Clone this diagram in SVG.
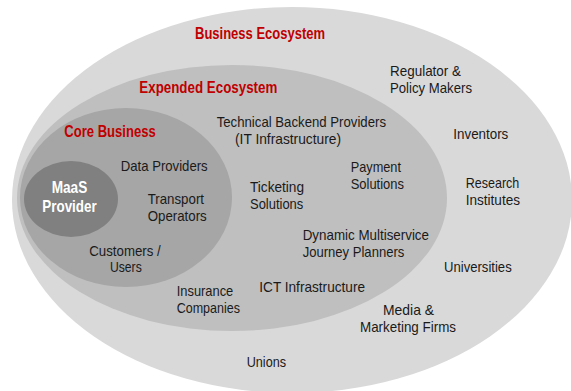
<svg xmlns="http://www.w3.org/2000/svg" width="571" height="391" viewBox="0 0 571 391">
  <style>
    .ring { stroke: none; }
    .title { font-family: "Liberation Sans", Arial, sans-serif; font-weight: bold; font-size: 16px; fill: #c00000; }
    .item { font-family: "Liberation Sans", Arial, sans-serif; font-size: 15px; fill: #1a1a1a; }
    .core-name { font-family: "Liberation Sans", Arial, sans-serif; font-weight: bold; font-size: 17px; fill: #ffffff; }
  </style>
  <rect width="571" height="391" fill="#ffffff"/>

  <!-- Outer ring: business ecosystem -->
  <g id="business-ecosystem">
    <ellipse class="ring" cx="292" cy="200" rx="280" ry="193" fill="#d9d9d9"/>
    <text class="title" x="195" y="39" textLength="130" lengthAdjust="spacingAndGlyphs">Business Ecosystem</text>
    <text class="item" x="390" y="76.3" textLength="71" lengthAdjust="spacingAndGlyphs">Regulator &amp;</text>
    <text class="item" x="390" y="93.3" textLength="82" lengthAdjust="spacingAndGlyphs">Policy Makers</text>
    <text class="item" x="453.3" y="139" textLength="55" lengthAdjust="spacingAndGlyphs">Inventors</text>
    <text class="item" x="465.7" y="187.7" textLength="53.6" lengthAdjust="spacingAndGlyphs">Research</text>
    <text class="item" x="465.7" y="205" textLength="54.3" lengthAdjust="spacingAndGlyphs">Institutes</text>
    <text class="item" x="444" y="271.7" textLength="67.7" lengthAdjust="spacingAndGlyphs">Universities</text>
    <text class="item" x="383" y="315" textLength="51" lengthAdjust="spacingAndGlyphs">Media &amp;</text>
    <text class="item" x="360" y="331.7" textLength="96" lengthAdjust="spacingAndGlyphs">Marketing Firms</text>
    <text class="item" x="246.7" y="367.3" textLength="39.3" lengthAdjust="spacingAndGlyphs">Unions</text>
  </g>

  <!-- Middle ring: expended ecosystem -->
  <g id="expended-ecosystem">
    <ellipse class="ring" cx="232" cy="198" rx="215" ry="133" fill="#bfbfbf"/>
    <text class="title" x="139.3" y="92.7" textLength="138" lengthAdjust="spacingAndGlyphs">Expended Ecosystem</text>
    <text class="item" x="216.7" y="127.3" textLength="169.3" lengthAdjust="spacingAndGlyphs">Technical Backend Providers</text>
    <text class="item" x="235" y="144.3" textLength="106" lengthAdjust="spacingAndGlyphs">(IT Infrastructure)</text>
    <text class="item" x="250" y="192.3" textLength="54" lengthAdjust="spacingAndGlyphs">Ticketing</text>
    <text class="item" x="250" y="209" textLength="53.3" lengthAdjust="spacingAndGlyphs">Solutions</text>
    <text class="item" x="350.7" y="172.3" textLength="50.3" lengthAdjust="spacingAndGlyphs">Payment</text>
    <text class="item" x="350.7" y="189.3" textLength="53.3" lengthAdjust="spacingAndGlyphs">Solutions</text>
    <text class="item" x="302.7" y="240" textLength="126.3" lengthAdjust="spacingAndGlyphs">Dynamic Multiservice</text>
    <text class="item" x="302.7" y="256.7" textLength="101.6" lengthAdjust="spacingAndGlyphs">Journey Planners</text>
    <text class="item" x="176.7" y="295.7" textLength="56.6" lengthAdjust="spacingAndGlyphs">Insurance</text>
    <text class="item" x="176.7" y="312.7" textLength="63.3" lengthAdjust="spacingAndGlyphs">Companies</text>
    <text class="item" x="259.3" y="291.7" textLength="105.7" lengthAdjust="spacingAndGlyphs">ICT Infrastructure</text>
  </g>

  <!-- Inner ring: core business -->
  <g id="core-business">
    <ellipse class="ring" cx="126" cy="197.5" rx="106" ry="89.5" fill="#a6a6a6"/>
    <text class="title" x="64.3" y="137.3" textLength="91.4" lengthAdjust="spacingAndGlyphs">Core Business</text>
    <text class="item" x="120.7" y="171.3" textLength="87" lengthAdjust="spacingAndGlyphs">Data Providers</text>
    <text class="item" x="147.7" y="204.3" textLength="56.3" lengthAdjust="spacingAndGlyphs">Transport</text>
    <text class="item" x="147.7" y="221" textLength="59" lengthAdjust="spacingAndGlyphs">Operators</text>
    <text class="item" x="89.3" y="255.7" textLength="71.4" lengthAdjust="spacingAndGlyphs">Customers /</text>
    <text class="item" x="110" y="272.3" textLength="31.7" lengthAdjust="spacingAndGlyphs">Users</text>
  </g>

  <!-- Centre: MaaS provider -->
  <g id="maas-provider">
    <ellipse class="ring" cx="71" cy="199" rx="47" ry="38" fill="#808080"/>
    <text class="core-name" x="51.7" y="193.3" textLength="35.6" lengthAdjust="spacingAndGlyphs">MaaS</text>
    <text class="core-name" x="42.3" y="212.3" textLength="54.4" lengthAdjust="spacingAndGlyphs">Provider</text>
  </g>

  <g id="connectors"/>
</svg>
